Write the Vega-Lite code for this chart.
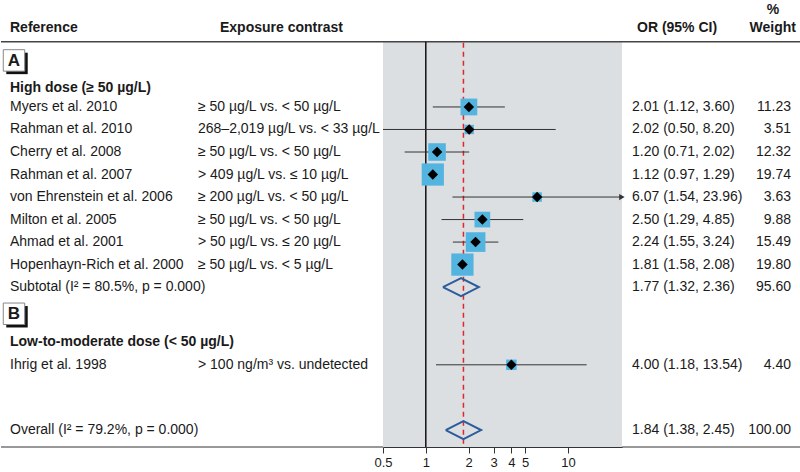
{
  "$schema": "https://vega.github.io/schema/vega-lite/v6.json",
  "padding": 0,
  "spacing": 0,
  "bounds": "flush",
  "background": "white",
  "datasets": {
    "studies": [
      {"ref": "High dose (≥ 50 µg/L)", "row": 2.15, "kind": "group"},
      {"ref": "Myers et al. 2010", "exp": "≥ 50 µg/L vs. < 50 µg/L", "or": 2.01, "lo": 1.12, "hi": 3.60, "ci": "2.01 (1.12, 3.60)", "w": 11.23, "wt": "11.23", "row": 3, "kind": "study"},
      {"ref": "Rahman et al. 2010", "exp": "268–2,019 µg/L vs. < 33 µg/L", "or": 2.02, "lo": 0.50, "hi": 8.20, "ci": "2.02 (0.50, 8.20)", "w": 3.51, "wt": "3.51", "row": 4, "kind": "study"},
      {"ref": "Cherry et al. 2008", "exp": "≥ 50 µg/L vs. < 50 µg/L", "or": 1.20, "lo": 0.71, "hi": 2.02, "ci": "1.20 (0.71, 2.02)", "w": 12.32, "wt": "12.32", "row": 5, "kind": "study"},
      {"ref": "Rahman et al. 2007", "exp": "> 409 µg/L vs. ≤ 10 µg/L", "or": 1.12, "lo": 0.97, "hi": 1.29, "ci": "1.12 (0.97, 1.29)", "w": 19.74, "wt": "19.74", "row": 6, "kind": "study"},
      {"ref": "von Ehrenstein et al. 2006", "exp": "≥ 200 µg/L vs. < 50 µg/L", "or": 6.07, "lo": 1.54, "hi": 23.96, "ci": "6.07 (1.54, 23.96)", "w": 3.63, "wt": "3.63", "row": 7, "kind": "study"},
      {"ref": "Milton et al. 2005", "exp": "≥ 50 µg/L vs. < 50 µg/L", "or": 2.50, "lo": 1.29, "hi": 4.85, "ci": "2.50 (1.29, 4.85)", "w": 9.88, "wt": "9.88", "row": 8, "kind": "study"},
      {"ref": "Ahmad et al. 2001", "exp": "> 50 µg/L vs. ≤ 20 µg/L", "or": 2.24, "lo": 1.55, "hi": 3.24, "ci": "2.24 (1.55, 3.24)", "w": 15.49, "wt": "15.49", "row": 9, "kind": "study"},
      {"ref": "Hopenhayn-Rich et al. 2000", "exp": "≥ 50 µg/L vs. < 5 µg/L", "or": 1.81, "lo": 1.58, "hi": 2.08, "ci": "1.81 (1.58, 2.08)", "w": 19.80, "wt": "19.80", "row": 10, "kind": "study"},
      {"ref": "Subtotal (I² = 80.5%, p = 0.000)", "or": 1.77, "lo": 1.32, "hi": 2.36, "ci": "1.77 (1.32, 2.36)", "wt": "95.60", "row": 11, "kind": "pooled"},
      {"ref": "Low-to-moderate dose (< 50 µg/L)", "row": 13.45, "kind": "group"},
      {"ref": "Ihrig et al. 1998", "exp": "> 100 ng/m³ vs. undetected", "or": 4.00, "lo": 1.18, "hi": 13.54, "ci": "4.00 (1.18, 13.54)", "w": 4.40, "wt": "4.40", "row": 14.45, "kind": "study"},
      {"ref": "Overall (I² = 79.2%, p = 0.000)", "or": 1.84, "lo": 1.38, "hi": 2.45, "ci": "1.84 (1.38, 2.45)", "wt": "100.00", "row": 17.35, "kind": "pooled"}
    ],
    "dia": [
      {"g": "sub", "o": 1, "x": 1.32, "y": 11},
      {"g": "sub", "o": 2, "x": 1.77, "y": 10.6},
      {"g": "sub", "o": 3, "x": 2.36, "y": 11},
      {"g": "sub", "o": 4, "x": 1.77, "y": 11.4},
      {"g": "sub", "o": 5, "x": 1.32, "y": 11},
      {"g": "all", "o": 1, "x": 1.38, "y": 17.35},
      {"g": "all", "o": 2, "x": 1.84, "y": 16.95},
      {"g": "all", "o": 3, "x": 2.45, "y": 17.35},
      {"g": "all", "o": 4, "x": 1.84, "y": 17.75},
      {"g": "all", "o": 5, "x": 1.38, "y": 17.35}
    ],
    "boxes": [
      {"box": "A", "row": 1},
      {"box": "B", "row": 12.25}
    ],
    "one": [{}]
  },
  "config": {
    "view": {"stroke": null},
    "font": "Liberation Sans, Arial, sans-serif",
    "text": {"baseline": "middle", "fontSize": 14, "color": "#1a1a1a", "font": "Liberation Sans, Arial, sans-serif"}
  },
  "hconcat": [
    {
      "width": 190,
      "height": 447,
      "layer": [
        {"data": {"name": "one"}, "mark": {"type": "rule", "color": "#444", "strokeWidth": 1.5}, "encoding": {"y": {"datum": 0.1, "type": "quantitative", "scale": {"domain": [-1.75, 18.1], "reverse": true}, "axis": null}}},
        {"data": {"name": "one"}, "mark": {"type": "rule", "color": "#333", "strokeWidth": 1}, "encoding": {"y": {"datum": 18.1, "type": "quantitative", "scale": {"domain": [-1.75, 18.1], "reverse": true}, "axis": null}}},
        {"data": {"values": [{"t": "Reference", "row": -0.5}]}, "mark": {"type": "text", "align": "left", "dx": 9, "fontWeight": "bold"},
         "encoding": {"x": {"datum": 0, "type": "quantitative", "scale": {"domain": [0, 1]}, "axis": null}, "y": {"field": "row", "type": "quantitative", "scale": {"domain": [-1.75, 18.1], "reverse": true}, "axis": null}, "text": {"field": "t"}}},
        {"data": {"name": "boxes"}, "mark": {"type": "point", "shape": "square", "filled": true, "color": "#111", "size": 460, "opacity": 1, "xOffset": 16, "yOffset": 1.5},
         "encoding": {"x": {"datum": 0, "type": "quantitative", "scale": {"domain": [0, 1]}, "axis": null}, "y": {"field": "row", "type": "quantitative", "scale": {"domain": [-1.75, 18.1], "reverse": true}, "axis": null}}},
        {"data": {"name": "boxes"}, "mark": {"type": "point", "shape": "square", "filled": true, "fill": "white", "stroke": "#888", "strokeWidth": 1, "size": 460, "opacity": 1, "xOffset": 13, "yOffset": -1.5},
         "encoding": {"x": {"datum": 0, "type": "quantitative", "scale": {"domain": [0, 1]}, "axis": null}, "y": {"field": "row", "type": "quantitative", "scale": {"domain": [-1.75, 18.1], "reverse": true}, "axis": null}}},
        {"data": {"name": "boxes"}, "mark": {"type": "text", "align": "center", "dx": 13, "dy": -1, "fontWeight": "bold", "fontSize": 17},
         "encoding": {"x": {"datum": 0, "type": "quantitative", "scale": {"domain": [0, 1]}, "axis": null}, "y": {"field": "row", "type": "quantitative", "scale": {"domain": [-1.75, 18.1], "reverse": true}, "axis": null}, "text": {"field": "box"}}},
        {"data": {"name": "studies"}, "transform": [{"filter": "datum.kind !== 'group'"}], "mark": {"type": "text", "align": "left", "dx": 9},
         "encoding": {"x": {"datum": 0, "type": "quantitative", "scale": {"domain": [0, 1]}, "axis": null}, "y": {"field": "row", "type": "quantitative", "scale": {"domain": [-1.75, 18.1], "reverse": true}, "axis": null}, "text": {"field": "ref"}}},
        {"data": {"name": "studies"}, "transform": [{"filter": "datum.kind === 'group'"}], "mark": {"type": "text", "align": "left", "dx": 9, "fontWeight": "bold"},
         "encoding": {"x": {"datum": 0, "type": "quantitative", "scale": {"domain": [0, 1]}, "axis": null}, "y": {"field": "row", "type": "quantitative", "scale": {"domain": [-1.75, 18.1], "reverse": true}, "axis": null}, "text": {"field": "ref"}}}
      ]
    },
    {
      "width": 192,
      "height": 447,
      "layer": [
        {"data": {"name": "one"}, "mark": {"type": "rule", "color": "#444", "strokeWidth": 1.5}, "encoding": {"y": {"datum": 0.1, "type": "quantitative", "scale": {"domain": [-1.75, 18.1], "reverse": true}, "axis": null}}},
        {"data": {"name": "one"}, "mark": {"type": "rule", "color": "#333", "strokeWidth": 1}, "encoding": {"y": {"datum": 18.1, "type": "quantitative", "scale": {"domain": [-1.75, 18.1], "reverse": true}, "axis": null}}},
        {"data": {"values": [{"t": "Exposure contrast", "row": -0.5}]}, "mark": {"type": "text", "align": "left", "dx": 29, "fontWeight": "bold"},
         "encoding": {"x": {"datum": 0, "type": "quantitative", "scale": {"domain": [0, 1]}, "axis": null}, "y": {"field": "row", "type": "quantitative", "scale": {"domain": [-1.75, 18.1], "reverse": true}, "axis": null}, "text": {"field": "t"}}},
        {"data": {"name": "studies"}, "transform": [{"filter": "datum.kind === 'study'"}], "mark": {"type": "text", "align": "left", "dx": 7},
         "encoding": {"x": {"datum": 0, "type": "quantitative", "scale": {"domain": [0, 1]}, "axis": null}, "y": {"field": "row", "type": "quantitative", "scale": {"domain": [-1.75, 18.1], "reverse": true}, "axis": null}, "text": {"field": "exp"}}}
      ]
    },
    {
      "width": 239,
      "height": 447,
      "layer": [
        {"data": {"name": "one"}, "mark": {"type": "rect", "color": "#dcdfe1"},
         "encoding": {
           "x": {"datum": 0.5, "type": "quantitative", "scale": {"type": "log", "domain": [0.5, 24]}, "axis": {"values": [0.5, 1, 2, 3, 4, 5, 10], "format": "~g", "title": null, "grid": false, "labelFlush": false, "labelOverlap": false, "tickSize": 6, "tickColor": "#333", "domainColor": "#333", "labelFontSize": 13, "labelColor": "#1a1a1a", "labelPadding": 3, "labelFont": "Liberation Sans, Arial, sans-serif"}},
           "x2": {"datum": 24},
           "y": {"datum": 0.1, "type": "quantitative", "scale": {"domain": [-1.75, 18.1], "reverse": true}, "axis": null},
           "y2": {"datum": 18.1}}},
        {"data": {"name": "one"}, "mark": {"type": "rule", "color": "#444", "strokeWidth": 1.5}, "encoding": {"y": {"datum": 0.1, "type": "quantitative", "scale": {"domain": [-1.75, 18.1], "reverse": true}, "axis": null}}},
        {"data": {"name": "one"}, "mark": {"type": "rule", "color": "#111", "strokeWidth": 1.5},
         "encoding": {
           "x": {"datum": 1, "type": "quantitative", "scale": {"type": "log", "domain": [0.5, 24]}, "axis": {"values": [0.5, 1, 2, 3, 4, 5, 10], "format": "~g", "title": null, "grid": false, "labelFlush": false, "labelOverlap": false, "tickSize": 6, "tickColor": "#333", "domainColor": "#333", "labelFontSize": 13, "labelColor": "#1a1a1a", "labelPadding": 3, "labelFont": "Liberation Sans, Arial, sans-serif"}},
           "y": {"datum": 0.1, "type": "quantitative", "scale": {"domain": [-1.75, 18.1], "reverse": true}, "axis": null},
           "y2": {"datum": 18.1}}},
        {"data": {"name": "studies"}, "transform": [{"filter": "datum.kind === 'pooled' && datum.row > 15"}], "mark": {"type": "rule", "color": "#e0262b", "strokeWidth": 1.5, "strokeDash": [5, 4]},
         "encoding": {
           "x": {"field": "or", "type": "quantitative", "scale": {"type": "log", "domain": [0.5, 24]}, "axis": {"values": [0.5, 1, 2, 3, 4, 5, 10], "format": "~g", "title": null, "grid": false, "labelFlush": false, "labelOverlap": false, "tickSize": 6, "tickColor": "#333", "domainColor": "#333", "labelFontSize": 13, "labelColor": "#1a1a1a", "labelPadding": 3, "labelFont": "Liberation Sans, Arial, sans-serif"}},
           "y": {"datum": 0.15, "type": "quantitative", "scale": {"domain": [-1.75, 18.1], "reverse": true}, "axis": null},
           "y2": {"datum": 18.1}}},
        {"data": {"name": "studies"}, "transform": [{"filter": "datum.kind === 'study'"}], "mark": {"type": "rule", "color": "#333", "strokeWidth": 1},
         "encoding": {
           "x": {"field": "lo", "type": "quantitative", "scale": {"type": "log", "domain": [0.5, 24]}, "axis": {"values": [0.5, 1, 2, 3, 4, 5, 10], "format": "~g", "title": null, "grid": false, "labelFlush": false, "labelOverlap": false, "tickSize": 6, "tickColor": "#333", "domainColor": "#333", "labelFontSize": 13, "labelColor": "#1a1a1a", "labelPadding": 3, "labelFont": "Liberation Sans, Arial, sans-serif"}},
           "x2": {"field": "hi"},
           "y": {"field": "row", "type": "quantitative", "scale": {"domain": [-1.75, 18.1], "reverse": true}, "axis": null}}},
        {"data": {"name": "studies"}, "transform": [{"filter": "datum.kind === 'study' && datum.hi > 20"}], "mark": {"type": "point", "shape": "triangle-right", "filled": true, "color": "#333", "size": 40, "opacity": 1},
         "encoding": {
           "x": {"field": "hi", "type": "quantitative", "scale": {"type": "log", "domain": [0.5, 24]}, "axis": {"values": [0.5, 1, 2, 3, 4, 5, 10], "format": "~g", "title": null, "grid": false, "labelFlush": false, "labelOverlap": false, "tickSize": 6, "tickColor": "#333", "domainColor": "#333", "labelFontSize": 13, "labelColor": "#1a1a1a", "labelPadding": 3, "labelFont": "Liberation Sans, Arial, sans-serif"}},
           "y": {"field": "row", "type": "quantitative", "scale": {"domain": [-1.75, 18.1], "reverse": true}, "axis": null}}},
        {"data": {"name": "studies"}, "transform": [{"filter": "datum.kind === 'study'"}], "mark": {"type": "point", "shape": "square", "filled": true, "color": "#52b4df", "opacity": 1},
         "encoding": {
           "x": {"field": "or", "type": "quantitative", "scale": {"type": "log", "domain": [0.5, 24]}, "axis": {"values": [0.5, 1, 2, 3, 4, 5, 10], "format": "~g", "title": null, "grid": false, "labelFlush": false, "labelOverlap": false, "tickSize": 6, "tickColor": "#333", "domainColor": "#333", "labelFontSize": 13, "labelColor": "#1a1a1a", "labelPadding": 3, "labelFont": "Liberation Sans, Arial, sans-serif"}},
           "y": {"field": "row", "type": "quantitative", "scale": {"domain": [-1.75, 18.1], "reverse": true}, "axis": null},
           "size": {"field": "w", "type": "quantitative", "scale": {"type": "linear", "domain": [0, 20], "range": [0, 500], "zero": true}, "legend": null}}},
        {"data": {"name": "studies"}, "transform": [{"filter": "datum.kind === 'study'"}], "mark": {"type": "point", "shape": "diamond", "filled": true, "color": "#000", "size": 110, "opacity": 1},
         "encoding": {
           "x": {"field": "or", "type": "quantitative", "scale": {"type": "log", "domain": [0.5, 24]}, "axis": {"values": [0.5, 1, 2, 3, 4, 5, 10], "format": "~g", "title": null, "grid": false, "labelFlush": false, "labelOverlap": false, "tickSize": 6, "tickColor": "#333", "domainColor": "#333", "labelFontSize": 13, "labelColor": "#1a1a1a", "labelPadding": 3, "labelFont": "Liberation Sans, Arial, sans-serif"}},
           "y": {"field": "row", "type": "quantitative", "scale": {"domain": [-1.75, 18.1], "reverse": true}, "axis": null}}},
        {"data": {"name": "dia"}, "mark": {"type": "line", "color": "#2b5c9c", "strokeWidth": 2},
         "encoding": {
           "x": {"field": "x", "type": "quantitative", "scale": {"type": "log", "domain": [0.5, 24]}, "axis": {"values": [0.5, 1, 2, 3, 4, 5, 10], "format": "~g", "title": null, "grid": false, "labelFlush": false, "labelOverlap": false, "tickSize": 6, "tickColor": "#333", "domainColor": "#333", "labelFontSize": 13, "labelColor": "#1a1a1a", "labelPadding": 3, "labelFont": "Liberation Sans, Arial, sans-serif"}},
           "y": {"field": "y", "type": "quantitative", "scale": {"domain": [-1.75, 18.1], "reverse": true}, "axis": null},
           "detail": {"field": "g"},
           "order": {"field": "o", "type": "quantitative"}}}
      ]
    },
    {
      "width": 110,
      "height": 447,
      "layer": [
        {"data": {"name": "one"}, "mark": {"type": "rule", "color": "#444", "strokeWidth": 1.5}, "encoding": {"y": {"datum": 0.1, "type": "quantitative", "scale": {"domain": [-1.75, 18.1], "reverse": true}, "axis": null}}},
        {"data": {"name": "one"}, "mark": {"type": "rule", "color": "#333", "strokeWidth": 1}, "encoding": {"y": {"datum": 18.1, "type": "quantitative", "scale": {"domain": [-1.75, 18.1], "reverse": true}, "axis": null}}},
        {"data": {"values": [{"t": "OR (95% CI)", "row": -0.5}]}, "mark": {"type": "text", "align": "left", "dx": 15, "fontWeight": "bold"},
         "encoding": {"x": {"datum": 0, "type": "quantitative", "scale": {"domain": [0, 1]}, "axis": null}, "y": {"field": "row", "type": "quantitative", "scale": {"domain": [-1.75, 18.1], "reverse": true}, "axis": null}, "text": {"field": "t"}}},
        {"data": {"name": "studies"}, "transform": [{"filter": "datum.kind !== 'group'"}], "mark": {"type": "text", "align": "left", "dx": 10},
         "encoding": {"x": {"datum": 0, "type": "quantitative", "scale": {"domain": [0, 1]}, "axis": null}, "y": {"field": "row", "type": "quantitative", "scale": {"domain": [-1.75, 18.1], "reverse": true}, "axis": null}, "text": {"field": "ci"}}}
      ]
    },
    {
      "width": 69,
      "height": 447,
      "layer": [
        {"data": {"name": "one"}, "mark": {"type": "rule", "color": "#444", "strokeWidth": 1.5}, "encoding": {"y": {"datum": 0.1, "type": "quantitative", "scale": {"domain": [-1.75, 18.1], "reverse": true}, "axis": null}}},
        {"data": {"name": "one"}, "mark": {"type": "rule", "color": "#333", "strokeWidth": 1}, "encoding": {"y": {"datum": 18.1, "type": "quantitative", "scale": {"domain": [-1.75, 18.1], "reverse": true}, "axis": null}}},
        {"data": {"values": [{"t": "%", "row": -1.3}]}, "mark": {"type": "text", "align": "center", "dx": -28, "fontWeight": "bold"},
         "encoding": {"x": {"datum": 1, "type": "quantitative", "scale": {"domain": [0, 1]}, "axis": null}, "y": {"field": "row", "type": "quantitative", "scale": {"domain": [-1.75, 18.1], "reverse": true}, "axis": null}, "text": {"field": "t"}}},
        {"data": {"values": [{"t": "Weight", "row": -0.5}]}, "mark": {"type": "text", "align": "right", "dx": -5, "fontWeight": "bold"},
         "encoding": {"x": {"datum": 1, "type": "quantitative", "scale": {"domain": [0, 1]}, "axis": null}, "y": {"field": "row", "type": "quantitative", "scale": {"domain": [-1.75, 18.1], "reverse": true}, "axis": null}, "text": {"field": "t"}}},
        {"data": {"name": "studies"}, "transform": [{"filter": "datum.kind !== 'group'"}], "mark": {"type": "text", "align": "right", "dx": -10},
         "encoding": {"x": {"datum": 1, "type": "quantitative", "scale": {"domain": [0, 1]}, "axis": null}, "y": {"field": "row", "type": "quantitative", "scale": {"domain": [-1.75, 18.1], "reverse": true}, "axis": null}, "text": {"field": "wt"}}}
      ]
    }
  ]
}
